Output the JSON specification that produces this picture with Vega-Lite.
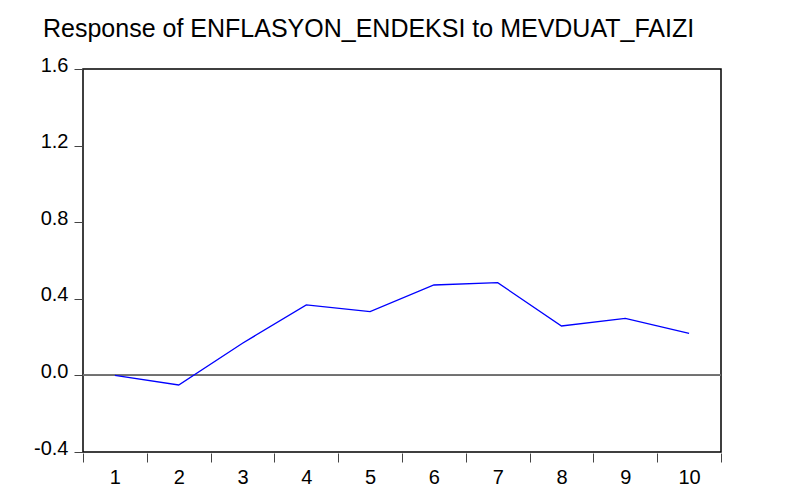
{
  "$schema": "https://vega.github.io/schema/vega-lite/v6.json",
  "autosize": {"type": "none"},
  "padding": {"left": 83, "top": 69, "right": 74, "bottom": 39},
  "width": 638,
  "height": 383,
  "background": "white",
  "title": {
    "text": "Response of ENFLASYON_ENDEKSI to MEVDUAT_FAIZI",
    "anchor": "start",
    "frame": "group",
    "orient": "top",
    "offset": -7,
    "dx": -40,
    "baseline": "alphabetic",
    "font": "Liberation Sans",
    "fontSize": 25,
    "fontWeight": "normal",
    "color": "#000000"
  },
  "config": {
    "locale": {"number": {"decimal": ".", "thousands": ",", "grouping": [3], "currency": ["$", ""], "minus": "-"}},
    "view": {"stroke": "#000000", "strokeWidth": 1.5},
    "axis": {
      "labelFont": "Liberation Sans",
      "labelFontSize": 20,
      "labelColor": "#000000",
      "tickColor": "#444444",
      "grid": false,
      "domain": false,
      "title": null
    }
  },
  "data": {
    "values": [
      {"period": 1, "response": 0.0},
      {"period": 2, "response": -0.05},
      {"period": 3, "response": 0.168},
      {"period": 4, "response": 0.368},
      {"period": 5, "response": 0.333},
      {"period": 6, "response": 0.472},
      {"period": 7, "response": 0.484},
      {"period": 8, "response": 0.258},
      {"period": 9, "response": 0.298},
      {"period": 10, "response": 0.22}
    ]
  },
  "encoding": {
    "x": {
      "field": "period",
      "type": "ordinal",
      "scale": {"type": "band", "paddingInner": 0, "paddingOuter": 0},
      "axis": {
        "labelAngle": 0,
        "tickBand": "extent",
        "tickSize": 9,
        "labelPadding": 5,
        "offset": 1
      }
    },
    "y": {
      "field": "response",
      "type": "quantitative",
      "scale": {"domain": [-0.4, 1.6], "nice": false, "zero": false},
      "axis": {
        "values": [-0.4, 0, 0.4, 0.8, 1.2, 1.6],
        "format": ".1f",
        "tickSize": 9,
        "labelPadding": 6,
        "labelOffset": -4
      }
    }
  },
  "layer": [
    {
      "mark": {"type": "rule", "color": "#707070", "strokeWidth": 1.2},
      "encoding": {"y": {"datum": 0}, "x": null}
    },
    {
      "mark": {"type": "line", "color": "#0000FF", "strokeWidth": 1.3}
    }
  ]
}
